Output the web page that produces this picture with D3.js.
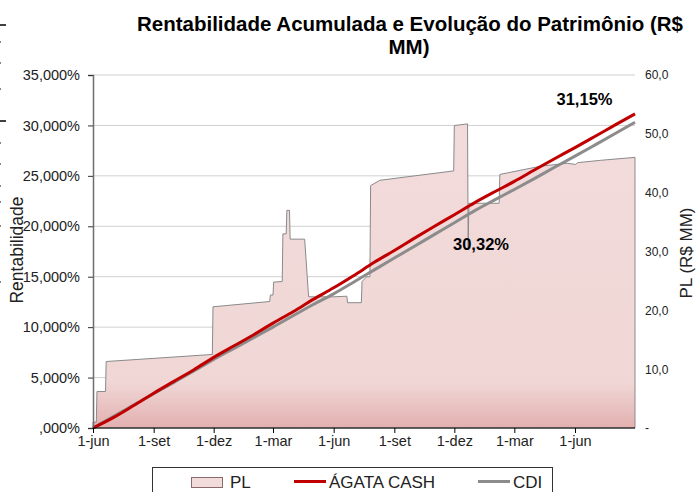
<!DOCTYPE html>
<html><head><meta charset="utf-8">
<script src="https://cdn.jsdelivr.net/npm/d3@7"></script>
<style>body{margin:0;background:#fff}svg{display:block;font-family:Arial,"Liberation Sans",sans-serif}</style>
</head><body><svg id="c" width="696" height="492"></svg>
<script>
// ---- data ----
const lineDates = ["2010-06-01","2010-07-01","2010-08-01","2010-09-01","2010-10-01","2010-11-01","2010-12-01","2011-01-01","2011-02-01","2011-03-01","2011-04-01","2011-05-01","2011-06-01","2011-07-01","2011-08-01","2011-09-01","2011-10-01","2011-11-01","2011-12-01","2012-01-01","2012-02-01","2012-03-01","2012-04-01","2012-05-01","2012-06-01","2012-07-01","2012-08-01","2012-08-31"];
const agata = [0,1.0,2.2,3.45,4.6,5.78,7.0,8.15,9.3,10.4,11.55,12.75,13.9,15.1,16.4,17.6,18.8,20.0,21.15,22.35,23.45,24.45,25.6,26.7,27.8,28.9,30.05,31.15];
const cdi   = [0,1.1,2.25,3.4,4.5,5.65,6.8,7.9,9.0,10.0,11.15,12.25,13.3,14.45,15.65,16.85,18.0,19.2,20.35,21.55,22.65,23.65,24.75,25.85,26.95,28.05,29.2,30.32];
const plDates = ["2010-06-01","2010-06-06","2010-06-07","2010-06-20","2010-06-21","2010-11-29","2010-11-30","2011-02-24","2011-02-25","2011-03-01","2011-03-02","2011-03-15","2011-03-16","2011-03-21","2011-03-22","2011-03-26","2011-03-27","2011-04-18","2011-04-24","2011-06-01","2011-06-21","2011-06-22","2011-07-13","2011-07-14","2011-07-21","2011-07-26","2011-07-27","2011-08-10","2011-11-30","2011-12-01","2011-12-21","2011-12-22","2011-12-23","2012-02-07","2012-02-08","2012-04-10","2012-05-20","2012-06-02","2012-06-05","2012-07-10","2012-08-31"];
const plValues = [1.0,1.0,6.2,6.2,11.3,12.5,20.6,21.5,22.6,22.6,24.8,24.9,33.0,33.0,37.0,37.0,32.1,32.1,22.3,22.3,22.4,21.3,21.3,24.9,25.7,25.7,41.2,42.1,43.7,51.4,51.7,30.6,38.2,38.2,43.1,44.5,45.0,44.8,45.1,45.5,46.0];
const leftTicks = [0,5,10,15,20,25,30,35];
const leftTickLabels = [",000%","5,000%","10,000%","15,000%","20,000%","25,000%","30,000%","35,000%"];
const rightTicks = [0,10,20,30,40,50,60];
const rightTickLabels = ["-","10,0","20,0","30,0","40,0","50,0","60,0"];
const xTickDates = ["2010-06-01","2010-09-01","2010-12-01","2011-03-01","2011-06-01","2011-09-01","2011-12-01","2012-03-01","2012-06-01"];
const xTickLabels = ["1-jun","1-set","1-dez","1-mar","1-jun","1-set","1-dez","1-mar","1-jun"];

// ---- layout ----
const svg = d3.select("#c");
const L = 93, R = 635, T = 75, B = 428;
const FF = "Arial,'Liberation Sans',sans-serif";
const parse = d3.timeParse("%Y-%m-%d");
const x = d3.scaleTime().domain([parse("2010-06-01"), parse("2012-08-31")]).range([L, R]);
const yL = d3.scaleLinear().domain([0, 35]).range([B, T]);
const yR = d3.scaleLinear().domain([0, 60]).range([B, T]);

// left-edge artifacts (cropped neighbour chart)
svg.append("line").attr("x1",0).attr("x2",6).attr("y1",25).attr("y2",25).attr("stroke","#000").attr("stroke-width",1.5);
svg.append("line").attr("x1",0).attr("x2",6).attr("y1",121).attr("y2",121).attr("stroke","#000").attr("stroke-width",1.5);
[41,62,88,142,163,185,201,225,281].forEach(v=>svg.append("rect").attr("x",0).attr("y",v).attr("width",1).attr("height",2).attr("fill","#888"));

// title
svg.append("text").attr("x",410).attr("y",31).attr("text-anchor","middle").attr("font-size",20.5).attr("font-weight","bold").text("Rentabilidade Acumulada e Evolução do Patrimônio (R$");
svg.append("text").attr("x",409).attr("y",54).attr("text-anchor","middle").attr("font-size",20.5).attr("font-weight","bold").text("MM)");

// gradient
const defs = svg.append("defs");
const g = defs.append("linearGradient").attr("id","plg").attr("gradientUnits","userSpaceOnUse").attr("x1",0).attr("x2",0).attr("y1",B).attr("y2",T);
g.append("stop").attr("offset",0).attr("stop-color","#e2b0af");
g.append("stop").attr("offset",0.13).attr("stop-color","#f0d7d6");
g.append("stop").attr("offset",1).attr("stop-color","#f2dcdb");

// gridlines
svg.append("g").selectAll("line").data(leftTicks.slice(1)).join("line")
  .attr("x1",L).attr("x2",R).attr("y1",d=>yL(d)).attr("y2",d=>yL(d)).attr("stroke","#d0d0d0").attr("stroke-width",1);

// PL area
const plData = plDates.map((d,i)=>({d:parse(d), v:plValues[i]}));
const area = d3.area().x(d=>x(d.d)).y0(yR(0)).y1(d=>yR(d.v));
svg.append("path").datum(plData).attr("d",area).attr("fill","url(#plg)").attr("stroke","#8a8a8a").attr("stroke-width",1);

// lines
const lData = (arr)=>lineDates.map((d,i)=>({d:parse(d), v:arr[i]}));
const line = d3.line().x(d=>x(d.d)).y(d=>yL(d.v)).curve(d3.curveMonotoneX);
svg.append("path").datum(lData(cdi)).attr("d",line).attr("fill","none").attr("stroke","#8c8c8c").attr("stroke-width",3);
svg.append("path").datum(lData(agata)).attr("d",line).attr("fill","none").attr("stroke","#c00000").attr("stroke-width",3);

// left axis
const axL = svg.append("g").attr("transform",`translate(${L},0)`)
  .call(d3.axisLeft(yL).tickValues(leftTicks).tickFormat((d,i)=>leftTickLabels[i]).tickSize(5).tickPadding(8));
axL.select(".domain").attr("stroke","#6e6e6e").attr("stroke-width",1.5);
axL.selectAll(".tick line").attr("stroke","#333");
axL.selectAll("text").attr("font-size",14.5).attr("fill","#222").attr("font-family",FF);

// right axis (labels only)
const axR = svg.append("g").attr("transform",`translate(${R},0)`)
  .call(d3.axisRight(yR).tickValues(rightTicks).tickFormat((d,i)=>rightTickLabels[i]).tickSize(0).tickPadding(10));
axR.select(".domain").remove();
axR.selectAll("text").attr("font-size",12).attr("fill","#222").attr("font-family",FF);

// bottom axis
const axB = svg.append("g").attr("transform",`translate(0,${B})`)
  .call(d3.axisBottom(x).tickValues(xTickDates.map(parse)).tickFormat((d,i)=>xTickLabels[i]).tickSize(5).tickPadding(3));
axB.select(".domain").attr("stroke","#000").attr("stroke-width",1.2).attr("d",`M${L},0H${R}`);
axB.selectAll(".tick line").attr("stroke","#000");
axB.selectAll("text").attr("font-size",14.5).attr("fill","#222").attr("font-family",FF);

// axis titles
svg.append("text").attr("transform","translate(22.5,250) rotate(-90)").attr("text-anchor","middle").attr("font-size",17.5).attr("fill","#222").text("Rentabilidade");
svg.append("text").attr("transform","translate(692,253) rotate(-90)").attr("text-anchor","middle").attr("font-size",17).attr("fill","#222").text("PL (R$ MM)");

// annotations
svg.append("text").attr("x",584.5).attr("y",105).attr("text-anchor","middle").attr("font-size",16.5).attr("font-weight","bold").text("31,15%");
svg.append("text").attr("x",481).attr("y",250).attr("text-anchor","middle").attr("font-size",16.5).attr("font-weight","bold").text("30,32%");

// legend
const lg = svg.append("g");
lg.append("rect").attr("x",152.5).attr("y",467.5).attr("width",400).attr("height",40).attr("fill","#fff").attr("stroke","#333").attr("stroke-width",1);
lg.append("rect").attr("x",191.5).attr("y",477.5).attr("width",31).attr("height",10).attr("fill","#f2dcdb").attr("stroke","#8a6a6a");
lg.append("text").attr("x",230).attr("y",488).attr("font-size",17).attr("fill","#222").text("PL");
lg.append("line").attr("x1",294).attr("x2",326).attr("y1",481.5).attr("y2",481.5).attr("stroke","#c00000").attr("stroke-width",3);
lg.append("text").attr("x",329).attr("y",488).attr("font-size",17).attr("fill","#222").text("ÁGATA CASH");
lg.append("line").attr("x1",478).attr("x2",510).attr("y1",481.5).attr("y2",481.5).attr("stroke","#8c8c8c").attr("stroke-width",3);
lg.append("text").attr("x",513).attr("y",488).attr("font-size",17).attr("fill","#222").text("CDI");
</script></body></html>
